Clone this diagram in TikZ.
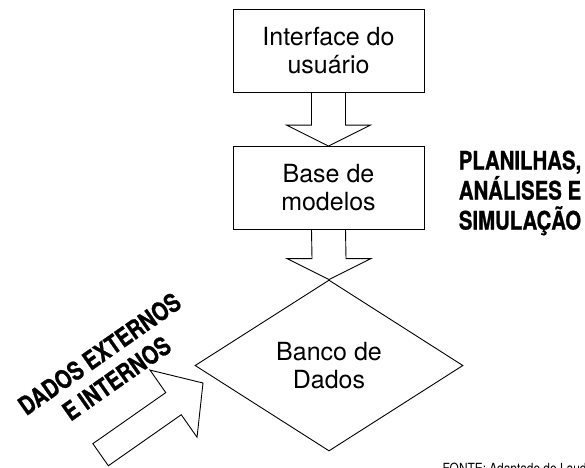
\documentclass[tikz,border=0pt]{standalone}
\usepackage{fontspec}
\setmainfont{TeX Gyre Heros}
\newfontfamily\condfont[FakeStretch=0.8, FakeBold=0.8]{TeX Gyre Heros}
\newfontfamily\notefont[FakeStretch=0.85]{TeX Gyre Heros}
\usetikzlibrary{shapes.geometric,calc}

\begin{document}
\begin{tikzpicture}[x=1pt, y=-1pt,
  box/.style={draw=black, line width=0.9pt, minimum width=191pt, minimum height=83pt,
              inner sep=0pt, align=center, font=\fontsize{25}{28}\selectfont},
  fatline/.style={draw=black, line width=0.9pt, line join=miter},
  loud/.style={align=center, inner sep=0pt, font=\condfont\bfseries\fontsize{25.5}{30}\selectfont}]

\useasboundingbox (0,0) rectangle (585,467);

% BOXES
  \node[box] (ui)     at (328.5, 50.5) {Interface do\\usuário};
  \node[box] (models) at (328.5, 188)  {Base de\\modelos};
  \node[box, diamond, aspect=1.57, minimum width=268pt, minimum height=171pt] (db) at (329, 365.5) {Banco de\\Dados};

% BLOCK ARROWS
  \foreach \a/\b in {ui/models, models/db}
    \draw[fatline] ($(\a.south)+(-17,0)$) -- ($(\b.north)+(-17,-21)$) -- ($(\b.north)+(-42,-21)$)
      -- (\b.north) -- ($(\b.north)+(42,-21)$) -- ($(\b.north)+(17,-21)$) -- ($(\a.south)+(17,0)$);

% Incoming data
  \coordinate (inflow) at (203, 383);
  \draw[fatline, shift={(inflow)}, rotate=35] (0,0) -- (-36,41) -- (-36,13.5) -- (-125,13.5)
    -- (-125,-13.5) -- (-36,-13.5) -- (-36,-41) -- cycle;
  \node[loud, rotate=35] (ext) at (108, 366) {DADOS EXTERNOS\\E INTERNOS};

% Tools
  \node[loud] (tools) at (520, 193) {PLANILHAS,\\ANÁLISES E\\SIMULAÇÃO};

% source line
  \node[anchor=base west, inner sep=0pt, font=\notefont\fontsize{14}{16}\selectfont] (note) at (442.5, 473) {FONTE: Adaptado de Laud};

\end{tikzpicture}
\end{document}
